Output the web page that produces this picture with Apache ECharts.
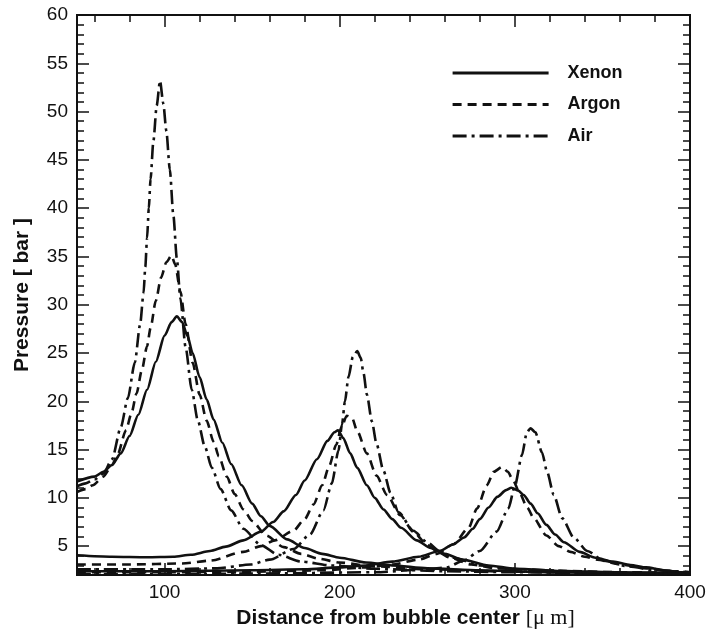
<!DOCTYPE html>
<html><head><meta charset="utf-8">
<script src="https://cdn.jsdelivr.net/npm/echarts@6/dist/echarts.min.js"></script>
<style>html,body{margin:0;padding:0;background:#fff}#c{width:710px;height:634px}</style>
</head><body><div id="c"></div>
<script>
// ---- data: [distance (µm), pressure (bar)] ----
const xenon1 = [[50,11.7],[60,12.2],[65,12.7],[70,13.4],[75,14.6],[80,16.4],[85,18.6],[90,21.2],[95,24.1],[100,26.8],[104,28.2],[107,28.8],[110,28.2],[113,26.8],[116,25.0],[120,22.5],[124,20.2],[128,18.1],[133,15.7],[138,13.5],[144,11.3],[150,9.4],[155,8.1],[160,7.1],[170,5.7],[180,4.8],[190,4.2],[200,3.8],[215,3.3],[230,3.0],[250,2.7],[280,2.5],[320,2.3],[360,2.2],[400,2.1]];
const xenon2 = [[50,4.05],[70,3.9],[90,3.85],[105,3.9],[115,4.1],[126,4.5],[135,4.95],[145,5.6],[155,6.5],[162,7.5],[168,8.6],[175,10.3],[180,11.8],[187,14.0],[193,15.9],[197,16.8],[199,17.0],[202,16.2],[206,14.6],[210,13.1],[215.5,11.3],[220,10.0],[225,8.8],[230,7.8],[235,6.9],[244,5.6],[252,4.8],[260,4.2],[270,3.6],[285,3.0],[300,2.65],[330,2.4],[360,2.3],[400,2.2]];
const xenon3 = [[50,2.4],[100,2.4],[150,2.5],[180,2.6],[200,2.8],[215,3.0],[230,3.4],[245,3.9],[257,4.5],[265,5.2],[271,5.9],[276,6.8],[280,7.8],[285,9.0],[290,10.1],[295,10.8],[298,11.05],[302,10.75],[305,10.3],[309,9.4],[313,8.4],[318,7.2],[323,6.2],[328,5.4],[337,4.4],[346,3.8],[356,3.4],[366,3.05],[375,2.8],[385,2.5],[395,2.3],[400,2.25]];

const argon1 = [[50,10.6],[55,10.9],[59,11.3],[65,12.2],[70,13.4],[73,14.4],[78,17.0],[81,18.7],[84,20.8],[87,23.2],[90,25.7],[92,27.6],[95,30.4],[98,32.8],[101,34.4],[104,35.1],[106,34.2],[109,31.4],[112,28.0],[116,24.0],[120,20.7],[124,18.0],[128,15.8],[131,14.3],[135.5,12.2],[140,10.4],[145,8.8],[150,7.6],[158,6.1],[168,4.9],[178,4.2],[188,3.7],[200,3.3],[220,2.9],[250,2.6],[300,2.35],[350,2.2],[400,2.1]];
const argon2 = [[50,3.1],[80,3.1],[110,3.2],[126,3.5],[145,4.4],[155,5.0],[163,5.6],[173.6,6.6],[180,7.8],[185,9.3],[190,11.3],[194,13.3],[198,15.5],[201,17.3],[204,18.5],[207,18.3],[210,16.9],[215.5,14.6],[221,12.3],[227,10.3],[234.6,8.2],[242,6.5],[250,5.1],[257,4.3],[263,3.8],[275,3.1],[290,2.7],[320,2.45],[360,2.3],[400,2.2]];
const argon3 = [[50,2.3],[100,2.3],[150,2.35],[190,2.5],[215,2.8],[230,3.1],[245,3.6],[255.5,4.2],[265,5.2],[273.6,6.9],[278.4,8.9],[284,11.3],[288,12.7],[292.7,13.2],[296,12.7],[299,11.8],[303,10.4],[307,9.0],[310.8,7.9],[318,6.1],[325,5.0],[331.7,4.4],[340,3.9],[347,3.6],[360,3.1],[375,2.7],[390,2.4],[400,2.3]];

const air1 = [[50,11.2],[55,11.5],[60,11.9],[65,12.5],[70,14.0],[75,17.3],[79,20.3],[83,24.0],[86,27.9],[88,31.2],[89,33.9],[90,36.9],[91,40.0],[92,43.0],[93.6,46.9],[95.5,50.6],[97.4,53.2],[99.3,50.8],[101,48.0],[103,44.0],[105,39.3],[107,34.8],[109,30.7],[112,25.6],[115.5,21.2],[119,18.0],[123,15.3],[127,13.1],[132,10.9],[138,8.7],[145,6.8],[155,5.1],[165,4.1],[178,3.4],[195,3.0],[220,2.65],[260,2.4],[300,2.3],[350,2.2],[400,2.1]];
const air2 = [[50,2.6],[100,2.6],[130,2.7],[149,3.1],[160,3.6],[173.6,4.7],[183,6.2],[190.7,8.7],[195.5,11.5],[199.3,14.9],[201.3,17.6],[203,20.0],[205,22.5],[207.5,24.6],[210,25.2],[212,24.5],[213.6,22.9],[215.5,20.7],[218.4,17.9],[221,15.6],[225,12.8],[229,10.5],[233.6,8.5],[242,6.6],[250,5.4],[257,4.5],[265,3.8],[280,3.0],[300,2.6],[350,2.3],[400,2.15]];
const air3 = [[50,2.1],[150,2.15],[220,2.3],[250,2.6],[261,2.8],[270.8,3.5],[280,4.5],[289.6,6.5],[296.3,8.9],[300.1,11.3],[304,14.4],[306.9,16.8],[308.9,17.2],[311.7,16.8],[315.5,14.7],[318.4,12.7],[322.2,10.3],[327,7.9],[333.6,5.9],[341.3,4.5],[350.8,3.5],[365,2.9],[380,2.5],[400,2.3]];

const xTickLabels = [100, 200, 300, 400];
const yTickLabels = [5, 10, 15, 20, 25, 30, 35, 40, 45, 50, 55, 60];
const gasNames = ['Xenon', 'Argon', 'Air'];
// ---------------------------------------------------------------------

const X_MIN = 50, X_MAX = 400, Y_MIN = 2, Y_MAX = 60;
const xMinor = []; for (let v = 60; v < X_MAX; v += 20) if (xTickLabels.indexOf(v) < 0) xMinor.push(v);
const yMinor = []; for (let v = 3; v < Y_MAX; v += 1) if (yTickLabels.indexOf(v) < 0) yMinor.push(v);

const FONT = "'Liberation Sans', Arial, sans-serif";
const INK = '#111';

function xAx(pos, major, labels, extra) {
  return Object.assign({
    type: 'value', position: pos, min: X_MIN, max: X_MAX,
    axisLine: { show: true, onZero: false, lineStyle: { color: INK, width: 2 } },
    splitLine: { show: false },
    axisTick: { show: true, inside: true, customValues: major ? xTickLabels : xMinor, length: major ? 12 : 7, lineStyle: { color: INK, width: 1.5 } },
    axisLabel: labels ? { show: true, customValues: xTickLabels, fontSize: 19, margin: 8, color: INK, fontFamily: FONT } : { show: false }
  }, extra || {});
}
function yAx(pos, major, labels, extra) {
  return Object.assign({
    type: 'value', position: pos, min: Y_MIN, max: Y_MAX,
    axisLine: { show: true, onZero: false, lineStyle: { color: INK, width: 2 } },
    splitLine: { show: false },
    axisTick: { show: true, inside: true, customValues: major ? yTickLabels : yMinor, length: major ? 12 : 7, lineStyle: { color: INK, width: 1.5 } },
    axisLabel: labels ? { show: true, customValues: yTickLabels, fontSize: 19, margin: 9, color: INK, fontFamily: FONT } : { show: false }
  }, extra || {});
}

const styles = {
  Xenon: { type: 'solid' },
  Argon: { type: [9, 6] },
  Air: { type: [14, 5, 3, 5] }
};

function mk(name, data) {
  return {
    type: 'line', name: name, data: data, symbol: 'none', smooth: 0.25, smoothMonotone: 'x',
    lineStyle: { color: INK, width: 2.6, type: styles[name].type },
    itemStyle: { color: INK }, emphasis: { disabled: true }, silent: true, animation: false
  };
}

const chart = echarts.init(document.getElementById('c'), null, { renderer: 'canvas' });
chart.setOption({
  backgroundColor: '#fff',
  animation: false,
  grid: { left: 77, right: 20, top: 15, bottom: 53, containLabel: false },
  legend: {
    data: gasNames, orient: 'vertical', left: 446, top: 59,
    itemWidth: 96, itemHeight: 14, itemGap: 13.5,
    itemStyle: { opacity: 0 },
    lineStyle: { width: 3.2 },
    textStyle: { fontSize: 18, fontWeight: 'bold', color: INK, fontFamily: FONT, padding: [0, 0, 0, 14] },
    selectedMode: false
  },
  xAxis: [
    xAx('bottom', true, true, {
      name: 'Distance from bubble center {u|[\u03bc m]}', nameLocation: 'middle', nameGap: 30,
      nameTextStyle: { fontSize: 21, fontWeight: 'bold', color: INK, fontFamily: FONT, padding: [0, 0, 0, 44],
        rich: { u: { fontSize: 22, fontWeight: 'normal', fontFamily: "'Liberation Serif', 'Times New Roman', serif", color: INK } } }
    }),
    xAx('bottom', false, false),
    xAx('top', true, false),
    xAx('top', false, false)
  ],
  yAxis: [
    yAx('left', true, true, {
      name: 'Pressure [ bar ]', nameLocation: 'middle', nameGap: 44, nameRotate: 90,
      nameTextStyle: { fontSize: 21, fontWeight: 'bold', color: INK, fontFamily: FONT }
    }),
    yAx('left', false, false),
    yAx('right', true, false),
    yAx('right', false, false)
  ],
  series: [
    mk('Xenon', xenon1), mk('Xenon', xenon2), mk('Xenon', xenon3),
    mk('Argon', argon1), mk('Argon', argon2), mk('Argon', argon3),
    mk('Air', air1), mk('Air', air2), mk('Air', air3)
  ]
});
</script>
</body></html>
